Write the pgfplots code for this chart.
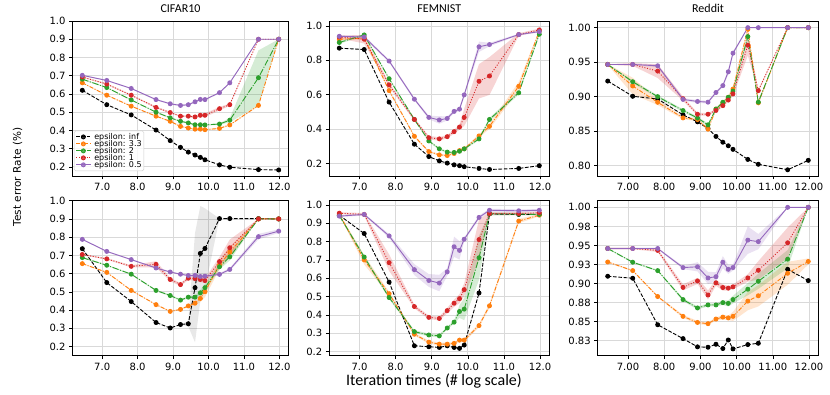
\documentclass[border=0pt]{standalone}
\usepackage{fontspec}
\setmainfont{DejaVu Sans}
\newfontfamily\carlito{Carlito}
\usepackage{pgfplots}
\usepackage{pgfplotstable}
\pgfplotsset{compat=1.18}
\usepgfplotslibrary{fillbetween}

\definecolor{tabor}{HTML}{FF7F0E}
\definecolor{tabgr}{HTML}{2CA02C}
\definecolor{tabrd}{HTML}{D62728}
\definecolor{tabpu}{HTML}{9467BD}

% x = log(iterations); each series: mean and half band width (d...)
\pgfplotstableread{
x     k     dk    o     do    g     dg    r     dr    p     dp
6.44  0.620 0     0.661 0.003 0.681 0.003 0.693 0.003 0.702 0.003
7.13  0.541 0     0.593 0.003 0.635 0.003 0.654 0.004 0.674 0.003
7.82  0.485 0     0.533 0.003 0.567 0.003 0.593 0.004 0.630 0.003
8.52  0.402 0     0.478 0.003 0.500 0.003 0.526 0.005 0.569 0.004
8.92  0.344 0     0.450 0.004 0.469 0.004 0.498 0.004 0.546 0.004
9.21  0.307 0     0.422 0.004 0.450 0.004 0.478 0.004 0.537 0.005
9.43  0.281 0     0.413 0.004 0.441 0.004 0.478 0.005 0.541 0.005
9.62  0.265 0     0.407 0.004 0.431 0.004 0.474 0.006 0.557 0.004
9.77  0.252 0     0.407 0.004 0.431 0.004 0.483 0.008 0.570 0.004
9.90  0.239 0     0.404 0.004 0.430 0.004 0.483 0.010 0.569 0.004
10.31 0.211 0     0.411 0.004 0.435 0.004 0.519 0.010 0.607 0.004
10.60 0.198 0     0.430 0.004 0.456 0.012 0.541 0.006 0.661 0.004
11.41 0.185 0     0.537 0.004 0.689 0.150 0.900 0     0.900 0
11.98 0.183 0     0.900 0     0.900 0     0.900 0     0.900 0
}\tCa

\pgfplotstableread{
x     k     dk    o     do    g     dg    r     dr    p     dp
6.44  0.737 0     0.655 0.003 0.688 0.004 0.705 0.004 0.788 0.003
7.13  0.551 0     0.607 0.003 0.646 0.003 0.681 0.004 0.722 0.003
7.82  0.447 0     0.508 0.003 0.597 0.003 0.640 0.006 0.677 0.003
8.52  0.332 0     0.430 0.003 0.508 0.004 0.651 0.017 0.631 0.005
8.92  0.302 0     0.393 0.004 0.480 0.005 0.568 0.010 0.609 0.004
9.21  0.321 0     0.404 0.004 0.455 0.005 0.540 0.008 0.597 0.004
9.43  0.325 0.015 0.423 0.006 0.471 0.006 0.575 0.010 0.590 0.006
9.62  0.523 0.300 0.438 0.012 0.471 0.010 0.573 0.012 0.590 0.010
9.77  0.711 0.260 0.464 0.020 0.495 0.015 0.568 0.015 0.584 0.010
9.90  0.738 0.220 0.501 0.030 0.523 0.020 0.562 0.012 0.586 0.008
10.31 0.902 0     0.649 0.025 0.638 0.015 0.666 0.025 0.596 0.006
10.60 0.902 0     0.718 0.030 0.692 0.020 0.742 0.045 0.623 0.008
11.41 0.902 0     0.900 0     0.900 0     0.900 0     0.803 0.015
11.98 0.900 0     0.900 0     0.900 0     0.900 0     0.833 0.010
}\tCb

\pgfplotstableread{
x     k     dk    o     do    g     dg    r     dr    p     dp
6.44  0.871 0     0.923 0.005 0.904 0.008 0.936 0.008 0.940 0.006
7.13  0.863 0     0.929 0.008 0.948 0.005 0.923 0.025 0.936 0.008
7.82  0.557 0     0.624 0.008 0.693 0.006 0.657 0.012 0.796 0.008
8.52  0.312 0     0.358 0.006 0.456 0.006 0.456 0.008 0.574 0.008
8.92  0.240 0     0.269 0.006 0.331 0.006 0.350 0.010 0.468 0.010
9.21  0.215 0     0.250 0.006 0.285 0.006 0.343 0.010 0.453 0.022
9.43  0.202 0     0.246 0.006 0.266 0.006 0.356 0.010 0.462 0.012
9.62  0.192 0     0.258 0.006 0.264 0.006 0.385 0.012 0.503 0.010
9.77  0.187 0     0.275 0.006 0.271 0.006 0.412 0.015 0.516 0.010
9.90  0.181 0     0.285 0.006 0.285 0.006 0.468 0.050 0.599 0.010
10.31 0.171 0     0.360 0.010 0.343 0.008 0.678 0.100 0.879 0.030
10.60 0.165 0     0.416 0.015 0.456 0.010 0.709 0.110 0.892 0.010
11.41 0.171 0     0.649 0.025 0.611 0.010 0.950 0.008 0.950 0.005
11.98 0.187 0     0.970 0.008 0.952 0.008 0.977 0.008 0.967 0.005
}\tFa

\pgfplotstableread{
x     k     dk    o     do    g     dg    r     dr    p     dp
6.44  0.944 0     0.950 0.005 0.942 0.005 0.955 0.005 0.939 0.005
7.13  0.844 0     0.700 0.025 0.716 0.010 0.948 0.008 0.948 0.006
7.82  0.579 0     0.516 0.010 0.495 0.008 0.685 0.045 0.831 0.010
8.52  0.232 0     0.295 0.008 0.309 0.008 0.446 0.010 0.647 0.030
8.92  0.227 0     0.252 0.008 0.291 0.008 0.387 0.010 0.588 0.035
9.21  0.223 0     0.241 0.008 0.286 0.008 0.381 0.010 0.574 0.045
9.43  0.232 0     0.241 0.008 0.329 0.008 0.424 0.015 0.635 0.020
9.62  0.223 0     0.245 0.008 0.361 0.008 0.464 0.020 0.772 0.055
9.77  0.218 0     0.263 0.008 0.419 0.035 0.489 0.025 0.752 0.050
9.90  0.236 0     0.263 0.010 0.432 0.060 0.538 0.035 0.813 0.010
10.31 0.520 0     0.342 0.010 0.712 0.120 0.811 0.110 0.932 0.010
10.60 0.951 0     0.450 0.012 0.951 0.008 0.953 0.008 0.971 0.008
11.41 0.948 0     0.912 0.012 0.950 0.006 0.953 0.008 0.968 0.008
11.98 0.948 0     0.944 0.006 0.948 0.006 0.957 0.008 0.971 0.006
}\tFb

\pgfplotstableread{
x     k      dk  o      do     g      dg     r      dr     p      dp
6.44  0.9226 0   0.9466 0.0005 0.9466 0.0005 0.9466 0.0005 0.9466 0.0005
7.13  0.9005 0   0.9154 0.012  0.9216 0.002  0.9466 0.002  0.9466 0.001
7.82  0.8966 0   0.8918 0.004  0.9000 0.002  0.9370 0.010  0.9447 0.002
8.52  0.8736 0   0.8692 0.002  0.8798 0.002  0.8970 0.003  0.8960 0.002
8.92  0.8635 0   0.8668 0.002  0.8690 0.002  0.8745 0.002  0.8930 0.002
9.21  0.8538 0   0.8529 0.002  0.8591 0.002  0.8745 0.002  0.8920 0.002
9.43  0.8423 0   0.8820 0.002  0.8820 0.002  0.8800 0.002  0.9060 0.002
9.62  0.8340 0   0.8910 0.002  0.8918 0.002  0.8870 0.002  0.9160 0.002
9.77  0.8288 0   0.8990 0.003  0.8990 0.002  0.8950 0.002  0.9360 0.004
9.90  0.8236 0   0.9110 0.004  0.9080 0.002  0.9040 0.003  0.9630 0.003
10.31 0.8090 0   0.9976 0.003  0.9870 0.005  0.9745 0.015  1.0000 0
10.60 0.8020 0   0.8910 0.002  0.8920 0.002  0.9087 0.002  1.0000 0
11.41 0.7940 0   1.0000 0      1.0000 0      1.0000 0      1.0000 0
11.98 0.8077 0   1.0000 0      1.0000 0      1.0000 0      1.0000 0
}\tRa

\pgfplotstableread{
x     k      dk  o      do    g      dg    r      dr    p      dp
6.44  0.9096 0   0.9283 0.001 0.9460 0.001 0.9460 0.001 0.9460 0.001
7.13  0.9070 0   0.9170 0.001 0.9280 0.001 0.9460 0.001 0.9460 0.001
7.82  0.8460 0   0.8830 0.001 0.9170 0.001 0.9435 0.002 0.9460 0.001
8.52  0.8278 0   0.8570 0.002 0.8790 0.002 0.8950 0.004 0.9210 0.002
8.92  0.8170 0   0.8490 0.002 0.8680 0.002 0.9035 0.004 0.9220 0.006
9.21  0.8165 0   0.8474 0.002 0.8720 0.002 0.8850 0.006 0.9074 0.008
9.43  0.8204 0   0.8535 0.002 0.8720 0.002 0.9010 0.004 0.9090 0.006
9.62  0.8148 0   0.8560 0.003 0.8750 0.003 0.8948 0.004 0.9280 0.008
9.77  0.8260 0   0.8550 0.003 0.8740 0.004 0.8940 0.003 0.9187 0.006
9.90  0.8143 0   0.8570 0.006 0.8790 0.005 0.8957 0.003 0.9210 0.004
10.31 0.8200 0   0.8770 0.012 0.8926 0.008 0.9074 0.005 0.9570 0.018
10.60 0.8217 0   0.8840 0.014 0.9030 0.010 0.9174 0.012 0.9550 0.010
11.41 0.9187 0   0.9135 0.015 0.9320 0.012 0.9535 0.020 1.0000 0
11.98 0.9039 0   0.9290 0.004 1.0000 0     1.0000 0     1.0000 0
}\tRb

\pgfplotsset{
  panel/.style={
    scale only axis, height=155pt, anchor=south west,
    xmin=6.163, xmax=12.257, xtick={7,8,9,10,11,12},
    grid=major, grid style={gray!30, line width=0.8pt},
    tick align=outside, tick pos=left, major tick length=3.5pt,
    tick style={black, line width=0.6pt},
    axis line style={line width=0.6pt},
    ticklabel style={font=\fontsize{10}{12}\selectfont},
    /pgf/number format/assume math mode=true,
    xticklabel style={/pgf/number format/fixed, /pgf/number format/fixed zerofill, /pgf/number format/precision=1},
    yticklabel style={/pgf/number format/fixed, /pgf/number format/fixed zerofill, /pgf/number format/precision=1},
    title style={font=\carlito\fontsize{12}{14}\selectfont, yshift=-1pt},
  },
  two/.style={
    xticklabel style={/pgf/number format/precision=2},
    yticklabel style={/pgf/number format/precision=2},
  },
  kst/.style={black, dash pattern=on 3.7pt off 1.6pt},
  ost/.style={tabor, dash pattern=on 4pt off 1.6pt on 1pt off 1.6pt},
  gst/.style={tabgr, dash pattern=on 6.4pt off 1.6pt on 1pt off 1.6pt},
  rst/.style={tabrd, dash pattern=on 1pt off 1.65pt},
  pst/.style={tabpu, solid},
}

% #1 table, #2 column, #3 line style, #4 band fill, #5 unique id
\newcommand{\drawrun}[5]{%
  \addplot[draw=none, forget plot, name path=lo#5] table[x=x, y expr=\thisrow{#2}-\thisrow{d#2}] {#1};
  \addplot[draw=none, forget plot, name path=hi#5] table[x=x, y expr=\thisrow{#2}+\thisrow{d#2}] {#1};
  \addplot[#4, draw=none, forget plot] fill between[of=lo#5 and hi#5];
  \addplot[#3, line width=0.9pt, mark=*, mark size=2pt, mark options={solid}] table[x=x, y=#2] {#1};
}
\newcommand{\allruns}[2]{%
  \drawrun{#1}{k}{kst}{fill=black, fill opacity=0.09}{#2k}
  \drawrun{#1}{o}{ost}{fill=tabor, fill opacity=0.2}{#2o}
  \drawrun{#1}{g}{gst}{fill=tabgr, fill opacity=0.2}{#2g}
  \drawrun{#1}{r}{rst}{fill=tabrd, fill opacity=0.2}{#2r}
  \drawrun{#1}{p}{pst}{fill=tabpu, fill opacity=0.2}{#2p}
}

\begin{document}
\begin{tikzpicture}

% top row
\begin{axis}[panel, at={(72.5pt,218pt)}, width=216pt, ymin=0.15, ymax=1.0,
  ytick={0.2,0.3,0.4,0.5,0.6,0.7,0.8,0.9,1.0}, title={CIFAR10},
  legend style={at={(0.007,0.032)}, anchor=south west,
    draw=gray!40, rounded corners=1.5pt, fill=white, fill opacity=0.8, text opacity=1,
    row sep=-2pt, inner sep=1.5pt, nodes={inner sep=0.7pt, font=\fontsize{8}{9}\selectfont}},
  legend cell align=left,
  legend image code/.code={\draw[mark repeat=2, mark phase=2] plot coordinates {(0pt,0pt) (7.2pt,0pt) (14.4pt,0pt)}; \path (17pt,0pt);},
]
\allruns{\tCa}{Ca}
\legend{epsilon: inf, epsilon: 3.3, epsilon: 2, epsilon: 1, epsilon: 0.5}
\end{axis}

\begin{axis}[panel, at={(329.3pt,218pt)}, width=220pt, ymin=0.127, ymax=1.029,
  ytick={0.2,0.4,0.6,0.8,1.0}, title={FEMNIST}]
\allruns{\tFa}{Fa}
\end{axis}

\begin{axis}[panel, two, at={(597.7pt,218pt)}, width=220.6pt, ymin=0.785, ymax=1.0096,
  ytick={0.80,0.85,0.90,0.95,1.00}, title={Reddit}]
\allruns{\tRa}{Ra}
\end{axis}

% bottom row
\begin{axis}[panel, at={(72.5pt,38.3pt)}, width=216pt, ymin=0.15, ymax=1.0,
  ytick={0.2,0.3,0.4,0.5,0.6,0.7,0.8,0.9,1.0}]
\allruns{\tCb}{Cb}
\end{axis}

\begin{axis}[panel, at={(329.3pt,38.3pt)}, width=220pt, ymin=0.178, ymax=1.023,
  ytick={0.2,0.3,0.4,0.5,0.6,0.7,0.8,0.9,1.0}]
\allruns{\tFb}{Fb}
\end{axis}

\begin{axis}[panel, two, at={(597.7pt,38.3pt)}, width=220.6pt, ymin=0.8054, ymax=1.0087,
  ytick={0.825,0.85,0.875,0.9,0.925,0.95,0.975,1.0},
  yticklabels={0.83,0.85,0.88,0.90,0.93,0.95,0.98,1.00}]
\allruns{\tRb}{Rb}
\end{axis}

\node[rotate=90, font=\fontsize{10.5}{12}\selectfont] at (17.5pt,217pt) {Test error Rate (\%)};
\node[font=\carlito\fontsize{16}{18}\selectfont] at (434pt,13pt) {Iteration times (\# log scale)};
\pgfresetboundingbox
\path[use as bounding box] (0,0) rectangle (830pt,394pt);
\end{tikzpicture}
\end{document}
